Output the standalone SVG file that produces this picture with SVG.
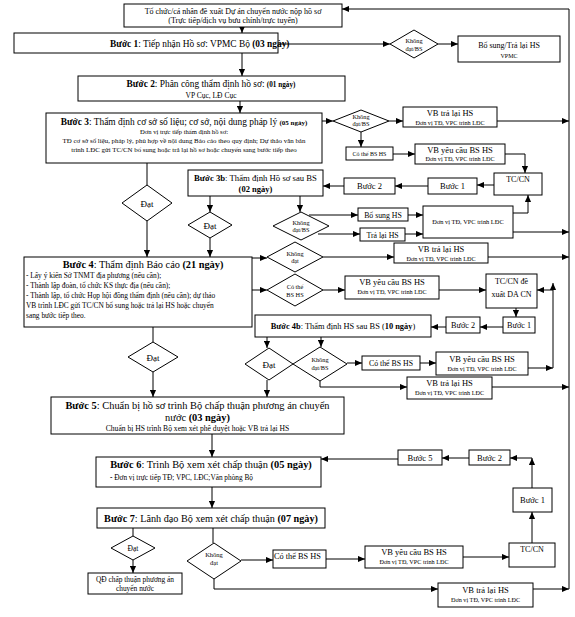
<svg xmlns="http://www.w3.org/2000/svg" width="575" height="617" viewBox="0 0 575 617">
<style>
.b{fill:#fff;stroke:#000;stroke-width:1}
.l{fill:none;stroke:#000;stroke-width:1}
.a{fill:none;stroke:#000;stroke-width:1;marker-end:url(#ah)}
text{font-family:"Liberation Serif","Times New Roman",serif;fill:#000}
.c{text-anchor:middle}
.bd{font-weight:bold}
.s{font-size:6.2px}
.d{font-size:6.3px}
</style>
<defs>
<marker id="ah" viewBox="0 0 8 8" refX="8" refY="4" markerWidth="7" markerHeight="7" orient="auto" markerUnits="userSpaceOnUse"><path d="M0,0.5 L8,4 L0,7.5 z" fill="#000"/></marker>
</defs>
<rect x="0" y="0" width="575" height="617" fill="#fff"/>

<g id="connectors">
<path class="l" d="M569,9 V589"/>
<path class="a" d="M569,9 H342"/>
<path class="a" d="M242,27 V33"/>
<path class="a" d="M242,53 V76"/>
<path class="a" d="M278,44 H390"/>
<path class="a" d="M438,44 H458"/>
<path class="a" d="M240,101 V113"/>
<path class="a" d="M322,121 H333"/>
<path class="a" d="M389,121 H403"/>
<path class="a" d="M497,121 H569"/>
<path class="a" d="M361,132 V147"/>
<path class="a" d="M393,154 H415"/>
<path class="a" d="M505,154 H525 V173"/>
<path class="a" d="M494,185 H477"/>
<path class="a" d="M428,186 H395"/>
<path class="a" d="M344,186 H323"/>
<path class="l" d="M147,163 V185"/>
<path class="a" d="M147,221 V257"/>
<path class="a" d="M210,196 V212"/>
<path class="a" d="M210,238 V257"/>
<path class="a" d="M300,196 V212"/>
<path class="a" d="M309,215 H358"/>
<path class="a" d="M318,234 H360"/>
<path class="a" d="M408,215 H423"/>
<path class="a" d="M405,234 H423"/>
<path class="a" d="M513,213 H528 V195"/>
<path class="a" d="M513,232 H569"/>
<path class="a" d="M252,258 H267"/>
<path class="a" d="M252,290 H267"/>
<path class="a" d="M323,257 H394"/>
<path class="a" d="M488,257 H569"/>
<path class="a" d="M323,290 H345"/>
<path class="a" d="M439,290 H486"/>
<path class="a" d="M516,308 V317"/>
<path class="a" d="M503,327 H480"/>
<path class="a" d="M446,327 H431"/>
<path class="a" d="M267,337 V348"/>
<path class="a" d="M321,337 V347"/>
<path class="a" d="M267,380 V397"/>
<path class="a" d="M347,363 H362"/>
<path class="a" d="M420,363 H436"/>
<path class="a" d="M528,368 H553"/>
<path class="a" d="M553,368 V283"/>
<path class="a" d="M553,290 H537"/>
<path class="a" d="M320,381 V387 H407"/>
<path class="a" d="M492,387 H569"/>
<path class="l" d="M153,327 V342"/>
<path class="a" d="M153,372 V397"/>
<path class="a" d="M212,434 V457"/>
<path class="a" d="M212,487 V508"/>
<path class="a" d="M398,459 H321"/>
<path class="a" d="M469,458 H442"/>
<path class="a" d="M532,488 V458"/>
<path class="a" d="M532,458 H510"/>
<path class="a" d="M532,543 V512"/>
<path class="a" d="M463,557 H509"/>
<path class="a" d="M326,559 H365"/>
<path class="a" d="M241,560 H273"/>
<path class="l" d="M213,528 V543"/>
<path class="l" d="M133,528 V536"/>
<path class="a" d="M133,560 V573"/>
<path class="a" d="M214,579 V589 H438"/>
<path class="a" d="M533,589 H569"/>
</g>

<g id="n-start"><rect class="b" x="124" y="4" width="218" height="23"/>
<text class="c" x="233" y="13.5" font-size="8">Tổ chức/cá nhân đề xuất Dự án chuyển nước nộp hồ sơ</text>
<text class="c" x="233" y="23" font-size="8">(Trực tiếp/dịch vụ bưu chính/trực tuyến)</text></g>

<g id="n-step1"><rect class="b" x="14" y="33" width="264" height="20"/>
<text x="110" y="46.5" font-size="9.4"><tspan class="bd">Bước 1</tspan>: Tiếp nhận Hồ sơ: VPMC Bộ <tspan class="bd">(03 ngày)</tspan></text></g>

<g id="d-step1"><path class="b" d="M390,44 L414,30 L438,44 L414,58 Z"/>
<text class="c d" x="414" y="43">Không</text><text class="c d" x="414" y="50.5">đạt/BS</text></g>

<g id="n-bs1"><rect class="b" x="458" y="36" width="102" height="26"/>
<text class="c" x="509" y="48" font-size="8">Bổ sung/Trả lại HS</text>
<text class="c" x="509" y="58" font-size="6">VPMC</text></g>

<g id="n-step2"><rect class="b" x="78" y="76" width="267" height="25"/>
<text class="c" x="211" y="87" font-size="9.4"><tspan class="bd">Bước 2</tspan>: Phân công thẩm định hồ sơ: <tspan class="bd" font-size="7.2">(01 ngày)</tspan></text>
<text class="c" x="211" y="98" font-size="7.5">VP Cục, LĐ Cục</text></g>

<g id="n-step3"><rect class="b" x="46" y="113" width="276" height="50"/>
<text class="c" x="184" y="125" font-size="9.4"><tspan class="bd">Bước 3</tspan>: Thẩm định cơ sở số liệu; cơ sở, nội dung pháp lý <tspan class="bd" font-size="7">(05 ngày)</tspan></text>
<text class="c" x="184" y="134" font-size="6.6">Đơn vị trực tiếp thẩm định hồ sơ:</text>
<text class="c" x="184" y="143" font-size="6.9">TĐ cơ sở số liệu, pháp lý, phù hợp về nội dung Báo cáo theo quy định; Dự thảo văn bản</text>
<text class="c" x="184" y="152" font-size="6.9">trình LĐC gửi TC/CN bổ sung hoặc trả lại hồ sơ hoặc chuyển sang bước tiếp theo</text></g>

<g id="d-step3"><path class="b" d="M333,121 L361,110 L389,121 L361,132 Z"/>
<text class="c d" x="361" y="119">Không</text><text class="c d" x="361" y="126">đạt/BS</text></g>

<g id="n-vb3"><rect class="b" x="403" y="107" width="94" height="20"/>
<text class="c" x="450" y="116" font-size="8.5">VB trả lại HS</text>
<text class="c s" x="450" y="124.5">Đơn vị TĐ, VPC trình LĐC</text></g>

<g id="n-cothe3"><rect class="b" x="346" y="147" width="47" height="13"/>
<text class="c" x="369.5" y="156" font-size="6">Có thể BS HS</text></g>

<g id="n-vbyc3"><rect class="b" x="415" y="144" width="90" height="20"/>
<text class="c" x="460" y="152.5" font-size="8.5">VB yêu cầu BS HS</text>
<text class="c s" x="460" y="161">Đơn vị TĐ, VPC trình LĐC</text></g>

<g id="n-tccn3"><rect class="b" x="494" y="173" width="48" height="22"/>
<text class="c" x="518" y="181.5" font-size="8">TC/CN</text></g>

<g id="n-b1-3"><rect class="b" x="428" y="178" width="49" height="16"/>
<text class="c" x="452.5" y="189" font-size="8.5">Bước 1</text></g>

<g id="n-b2-3"><rect class="b" x="344" y="178" width="51" height="16"/>
<text class="c" x="369.5" y="189" font-size="8.5">Bước 2</text></g>

<g id="n-step3b"><rect class="b" x="188" y="170" width="135" height="26"/>
<text class="c" x="255.5" y="180.5" font-size="8.7"><tspan class="bd">Bước 3b</tspan>: Thẩm định Hồ sơ sau BS</text>
<text class="c bd" x="255.5" y="192" font-size="8.5">(02 ngày)</text></g>

<g id="d-dat3"><path class="b" d="M122,203 L147,185 L172,203 L147,221 Z"/>
<text class="c" x="147" y="206.5" font-size="9">Đạt</text></g>

<g id="d-dat3b"><path class="b" d="M188,225 L210,212 L232,225 L210,238 Z"/>
<text class="c" x="210" y="228.5" font-size="9">Đạt</text></g>

<g id="d-kd3b"><path class="b" d="M273,226 L301,212 L329,226 L301,240 Z"/>
<text class="c d" x="301" y="225">Không</text><text class="c d" x="301" y="232">đạt/BS</text></g>

<g id="n-bosung"><rect class="b" x="358" y="208" width="50" height="13"/>
<text class="c" x="383" y="217.5" font-size="7.8">Bổ sung HS</text></g>

<g id="n-tralai"><rect class="b" x="360" y="228" width="45" height="13"/>
<text class="c" x="382.5" y="237.5" font-size="7.8">Trả lại HS</text></g>

<g id="n-donvi"><rect class="b" x="423" y="206" width="90" height="32"/>
<text class="c" x="468" y="224" font-size="6.4">Đơn vị TĐ, VPC trình LĐC</text></g>

<g id="n-step4"><rect class="b" x="24" y="257" width="228" height="70"/>
<text class="c" x="143" y="267.5" font-size="10.3"><tspan class="bd">Bước 4</tspan>: Thẩm định Báo cáo <tspan class="bd">(21 ngày)</tspan></text>
<text x="26" y="277.5" font-size="7.4">- Lấy ý kiến Sở TNMT địa phương (nếu cần);</text>
<text x="26" y="287.5" font-size="7.4">- Thành lập đoàn, tổ chức KS thực địa (nếu cần);</text>
<text x="26" y="297.5" font-size="7.4">- Thành lập, tổ chức Họp hội đồng thẩm định (nếu cần); dự thảo</text>
<text x="26" y="307.5" font-size="7.4">VB trình LĐC gửi TC/CN bổ sung hoặc trả lại HS hoặc chuyển</text>
<text x="26" y="317.5" font-size="7.4">sang bước tiếp theo.</text></g>

<g id="d-kd4"><path class="b" d="M267,257 L295,242 L323,257 L295,272 Z"/>
<text class="c d" x="295" y="255.5">Không</text><text class="c d" x="295" y="263">đạt</text></g>

<g id="d-ct4"><path class="b" d="M267,290 L295,274 L323,290 L295,306 Z"/>
<text class="c d" x="295" y="288.5">Có thể</text><text class="c d" x="295" y="297">BS HS</text></g>

<g id="n-vb4"><rect class="b" x="394" y="243" width="94" height="20"/>
<text class="c" x="441" y="252" font-size="8.5">VB trả lại HS</text>
<text class="c s" x="441" y="260.5">Đơn vị TĐ, VPC trình LĐC</text></g>

<g id="n-vbyc4"><rect class="b" x="345" y="276" width="94" height="23"/>
<text class="c" x="392" y="285" font-size="8.5">VB yêu cầu BS HS</text>
<text class="c s" x="392" y="294">Đơn vị TĐ, VPC trình LĐC</text></g>

<g id="n-tccn4"><rect class="b" x="486" y="274" width="51" height="34"/>
<text class="c" x="511.5" y="284" font-size="8">TC/CN đề</text>
<text class="c" x="511.5" y="297" font-size="8">xuất DA CN</text></g>

<g id="n-b1-4"><rect class="b" x="503" y="317" width="32" height="16"/>
<text class="c" x="519" y="328" font-size="8.2">Bước 1</text></g>

<g id="n-b2-4"><rect class="b" x="446" y="317" width="34" height="16"/>
<text class="c" x="463" y="328" font-size="8.2">Bước 2</text></g>

<g id="n-step4b"><rect class="b" x="255" y="315" width="176" height="22"/>
<text class="c" x="343" y="329" font-size="8.4"><tspan class="bd">Bước 4b</tspan>: Thẩm định HS sau BS (<tspan class="bd">10 ngày</tspan>)</text></g>

<g id="d-dat4"><path class="b" d="M128,357 L153,342 L178,357 L153,372 Z"/>
<text class="c" x="153" y="360.5" font-size="9">Đạt</text></g>

<g id="d-dat4b"><path class="b" d="M245,364 L269,348 L293,364 L269,380 Z"/>
<text class="c" x="269" y="367.5" font-size="9">Đạt</text></g>

<g id="d-kd4b"><path class="b" d="M293,364 L320,347 L347,364 L320,381 Z"/>
<text class="c d" x="320" y="362">Không</text><text class="c d" x="320" y="369.5">đạt/BS</text></g>

<g id="n-ct4b"><rect class="b" x="362" y="356" width="58" height="14"/>
<text class="c" x="391" y="366" font-size="7.8">Có thể BS HS</text></g>

<g id="n-vbyc4b"><rect class="b" x="436" y="352" width="92" height="23"/>
<text class="c" x="482" y="361.5" font-size="8.5">VB yêu cầu BS HS</text>
<text class="c s" x="482" y="370.5">Đơn vị TĐ, VPC trình LĐC</text></g>

<g id="n-vb4b"><rect class="b" x="407" y="377" width="85" height="22"/>
<text class="c" x="449.5" y="386" font-size="8.5">VB trả lại HS</text>
<text class="c s" x="449.5" y="395">Đơn vị TĐ, VPC trình LĐC</text></g>

<g id="n-step5"><rect class="b" x="51" y="397" width="293" height="37"/>
<text class="c" x="197.5" y="409" font-size="10.4"><tspan class="bd">Bước 5</tspan>: Chuẩn bị hồ sơ trình Bộ chấp thuận phương án chuyển</text>
<text class="c" x="197.5" y="420.5" font-size="10.4">nước <tspan class="bd">(03 ngày)</tspan></text>
<text class="c" x="197.5" y="431" font-size="7.6">Chuẩn bị HS trình Bộ xem xét phê duyệt hoặc VB trả lại HS</text></g>

<g id="n-step6"><rect class="b" x="96" y="457" width="225" height="30"/>
<text class="c" x="211" y="468" font-size="10.4"><tspan class="bd">Bước 6</tspan>: Trình Bộ xem xét chấp thuận <tspan class="bd">(05 ngày)</tspan></text>
<text x="110" y="479.5" font-size="7.3"><tspan class="bd">-</tspan> Đơn vị trực tiếp TĐ; VPC, LĐC;Văn phòng Bộ</text></g>

<g id="n-b5-6"><rect class="b" x="398" y="450" width="44" height="15"/>
<text class="c" x="420" y="461" font-size="8.5">Bước 5</text></g>

<g id="n-b2-6"><rect class="b" x="469" y="450" width="41" height="15"/>
<text class="c" x="489.5" y="461" font-size="8.5">Bước 2</text></g>

<g id="n-b1-6"><rect class="b" x="513" y="488" width="39" height="24"/>
<text class="c" x="532.5" y="503" font-size="8.5">Bước 1</text></g>

<g id="n-step7"><rect class="b" x="97" y="508" width="228" height="20"/>
<text class="c" x="211" y="521.5" font-size="10.2"><tspan class="bd">Bước 7</tspan>: Lãnh đạo Bộ xem xét chấp thuận <tspan class="bd">(07 ngày)</tspan></text></g>

<g id="d-dat7"><path class="b" d="M111,548 L133,536 L155,548 L133,560 Z"/>
<text class="c" x="133" y="551" font-size="7.5">Đạt</text></g>

<g id="d-kd7"><path class="b" d="M187,561 L214,543 L241,561 L214,579 Z"/>
<text class="c" x="214" y="557" font-size="6.5">Không</text><text class="c" x="214" y="565" font-size="6.5">đạt</text></g>

<g id="n-qd"><rect class="b" x="88" y="573" width="94" height="21"/>
<text class="c" x="135" y="581.5" font-size="7.4">QĐ chấp thuận phương án</text>
<text class="c" x="135" y="590.5" font-size="7.4">chuyển nước</text></g>

<g id="n-ct7"><rect class="b" x="273" y="550" width="53" height="18"/>
<text x="274" y="559" font-size="8.3">Có thể BS HS</text></g>

<g id="n-vbyc7"><rect class="b" x="365" y="546" width="98" height="22"/>
<text class="c" x="414" y="555" font-size="8.5">VB yêu cầu BS HS</text>
<text class="c s" x="414" y="564">Đơn vị TĐ, VPC trình LĐC</text></g>

<g id="n-tccn7"><rect class="b" x="509" y="543" width="46" height="24"/>
<text class="c" x="532" y="551.5" font-size="8">TC/CN</text></g>

<g id="n-vb7"><rect class="b" x="438" y="583" width="95" height="24"/>
<text class="c" x="485.5" y="593" font-size="8.5">VB trả lại HS</text>
<text class="c s" x="485.5" y="602">Đơn vị TĐ, VPC trình LĐC</text></g>
</svg>
